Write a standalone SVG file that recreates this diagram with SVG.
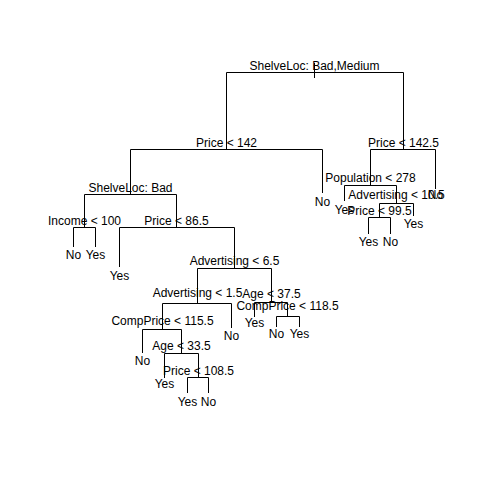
<svg xmlns="http://www.w3.org/2000/svg" width="480" height="480" viewBox="0 0 480 480">
<style>
text{font-family:"Liberation Sans",Arial,Helvetica,sans-serif;font-size:12px;fill:#000;text-anchor:middle}
.e{fill:none;stroke:#000;stroke-width:1}
</style>
<rect width="480" height="480" fill="#fff"/>
<g id="connectors" class="e">
<path class="e" d="M314.5 63V78"/>
<path class="e" d="M226.5 149V72.5H403.5V149"/>
<path class="e" d="M130.5 194V149.5H322.5V193"/>
<path class="e" d="M370.5 185V149.5H435.5V189"/>
<path class="e" d="M84.5 227V194.5H176.5V227"/>
<path class="e" d="M73.5 247V227.5H95.5V247"/>
<path class="e" d="M119.5 267V227.5H234.5V268"/>
<path class="e" d="M197.5 303V268.5H271.5V302"/>
<path class="e" d="M162.5 329V303.5H231.5V328"/>
<path class="e" d="M254.5 317V302.5H287.5V316"/>
<path class="e" d="M276.5 327V316.5H299.5V327"/>
<path class="e" d="M142.5 353V329.5H181.5V353"/>
<path class="e" d="M164.5 378V353.5H198.5V377"/>
<path class="e" d="M187.5 393V377.5H208.5V393"/>
<path class="e" d="M344.5 201V185.5H396.5V203"/>
<path class="e" d="M379.5 217V203.5H413.5V216"/>
<path class="e" d="M368.5 234V217.5H390.5V234"/>
</g>
<g id="n_root"><text x="314.5" y="69.5">ShelveLoc: Bad,Medium</text></g>
<g id="n_price142"><text x="226.5" y="146.7">Price &lt; 142</text></g>
<g id="n_price1425"><text x="403.5" y="146.7">Price &lt; 142.5</text></g>
<g id="n_shelvebad"><text x="130.5" y="191.5">ShelveLoc: Bad</text></g>
<g id="n_income"><text x="84.5" y="225">Income &lt; 100</text></g>
<g id="n_price865"><text x="176.5" y="225">Price &lt; 86.5</text></g>
<g id="n_adv65"><text x="234.5" y="265">Advertising &lt; 6.5</text></g>
<g id="n_adv15"><text x="197.5" y="297">Advertising &lt; 1.5</text></g>
<g id="n_age375"><text x="271.5" y="297.5">Age &lt; 37.5</text></g>
<g id="n_comp1185"><text x="287.5" y="310">CompPrice &lt; 118.5</text></g>
<g id="n_comp1155"><text x="162.5" y="325">CompPrice &lt; 115.5</text></g>
<g id="n_age335"><text x="181.5" y="350">Age &lt; 33.5</text></g>
<g id="n_price1085"><text x="198.5" y="374.5">Price &lt; 108.5</text></g>
<g id="n_pop"><text x="370.5" y="182">Population &lt; 278</text></g>
<g id="n_adv105"><text x="396.5" y="199">Advertising &lt; 10.5</text></g>
<g id="n_price995"><text x="379.5" y="215">Price &lt; 99.5</text></g>
<g id="l1"><text x="322.5" y="206">No</text></g>
<g id="l2"><text x="73.5" y="259">No</text></g>
<g id="l3"><text x="95.5" y="259">Yes</text></g>
<g id="l4"><text x="119.5" y="280">Yes</text></g>
<g id="l5"><text x="435.5" y="199">No</text></g>
<g id="l6"><text x="344.5" y="214">Yes</text></g>
<g id="l7"><text x="413.5" y="228">Yes</text></g>
<g id="l8"><text x="368.5" y="246">Yes</text></g>
<g id="l9"><text x="390.5" y="246">No</text></g>
<g id="l10"><text x="231.5" y="339.5">No</text></g>
<g id="l11"><text x="254.5" y="327">Yes</text></g>
<g id="l12"><text x="276.5" y="338">No</text></g>
<g id="l13"><text x="299.5" y="338">Yes</text></g>
<g id="l14"><text x="142.5" y="365">No</text></g>
<g id="l15"><text x="164.5" y="388">Yes</text></g>
<g id="l16"><text x="187.5" y="405.5">Yes</text></g>
<g id="l17"><text x="208.5" y="405.5">No</text></g>
</svg>
